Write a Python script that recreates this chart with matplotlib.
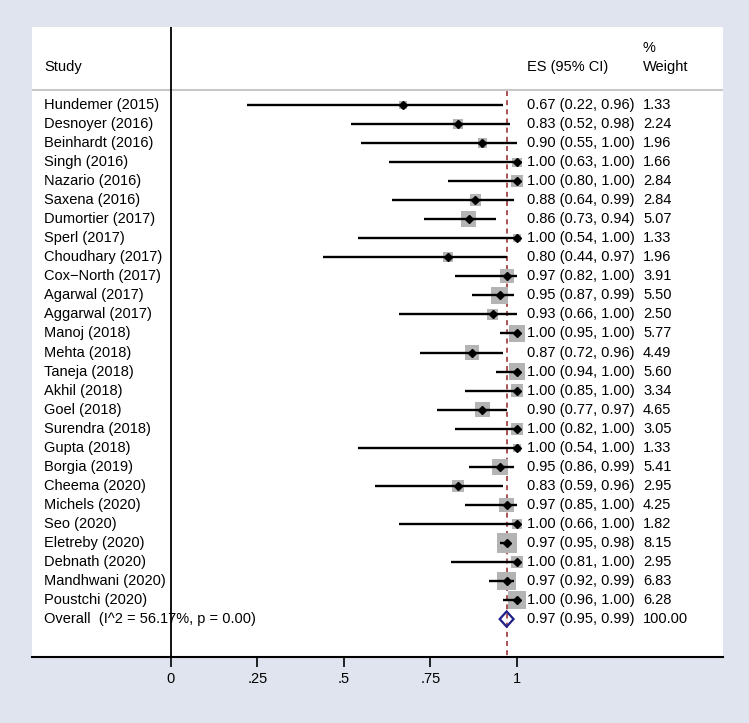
import matplotlib.pyplot as plt
from matplotlib.patches import Polygon
import numpy as np

plt.rcParams['font.family'] = ['Liberation Sans', 'DejaVu Sans']

studies = ["Hundemer (2015)", "Desnoyer (2016)", "Beinhardt (2016)", "Singh (2016)",
           "Nazario (2016)", "Saxena (2016)", "Dumortier (2017)", "Sperl (2017)",
           "Choudhary (2017)", "Cox\u2212North (2017)", "Agarwal (2017)", "Aggarwal (2017)",
           "Manoj (2018)", "Mehta (2018)", "Taneja (2018)", "Akhil (2018)", "Goel (2018)",
           "Surendra (2018)", "Gupta (2018)", "Borgia (2019)", "Cheema (2020)",
           "Michels (2020)", "Seo (2020)", "Eletreby (2020)", "Debnath (2020)",
           "Mandhwani (2020)", "Poustchi (2020)"]
es = [0.67, 0.83, 0.90, 1.00, 1.00, 0.88, 0.86, 1.00, 0.80, 0.97, 0.95, 0.93, 1.00, 0.87,
      1.00, 1.00, 0.90, 1.00, 1.00, 0.95, 0.83, 0.97, 1.00, 0.97, 1.00, 0.97, 1.00]
lo = [0.22, 0.52, 0.55, 0.63, 0.80, 0.64, 0.73, 0.54, 0.44, 0.82, 0.87, 0.66, 0.95, 0.72,
      0.94, 0.85, 0.77, 0.82, 0.54, 0.86, 0.59, 0.85, 0.66, 0.95, 0.81, 0.92, 0.96]
hi = [0.96, 0.98, 1.00, 1.00, 1.00, 0.99, 0.94, 1.00, 0.97, 1.00, 0.99, 1.00, 1.00, 0.96,
      1.00, 1.00, 0.97, 1.00, 1.00, 0.99, 0.96, 1.00, 1.00, 0.98, 1.00, 0.99, 1.00]
weight = [1.33, 2.24, 1.96, 1.66, 2.84, 2.84, 5.07, 1.33, 1.96, 3.91, 5.50, 2.50, 5.77, 4.49,
          5.60, 3.34, 4.65, 3.05, 1.33, 5.41, 2.95, 4.25, 1.82, 8.15, 2.95, 6.83, 6.28]
overall_label = "Overall  (I^2 = 56.17%, p = 0.00)"
overall = (0.97, 0.95, 0.99)
overall_weight = 100.00
xticks = [0, 0.25, 0.5, 0.75, 1]
xticklabels = ["0", ".25", ".5", ".75", "1"]

W, H = 749, 723
fig = plt.figure(figsize=(W / 100, H / 100), dpi=100)
fig.patch.set_facecolor('#dfe4ef')

# panel in pixels: left 32, right 723, top 27, bottom 657
ax = fig.add_axes([32 / W, 1 - 657 / H, (723 - 32) / W, (657 - 27) / H])
ax.set_facecolor('white')

px_unit = 346.0
row_px = 19.04
ax.set_xlim((32 - 171) / px_unit, (723 - 171) / px_unit)
ax.set_ylim((657 - 105) / row_px, (27 - 105) / row_px)

for s in ['top', 'left', 'right']:
    ax.spines[s].set_visible(False)
ax.spines['bottom'].set_linewidth(1.5)

fs = 10.5
x_study = (44 - 171) / px_unit
x_es = (527 - 171) / px_unit
x_w = (643 - 171) / px_unit

rows = np.arange(len(studies))

# header
ax.text(x_study, -2.0, "Study", fontsize=fs, va='center')
ax.text(x_es, -2.0, "ES (95% CI)", fontsize=fs, va='center')
ax.text(x_w, -3.0, "%", fontsize=fs, va='center')
ax.text(x_w, -2.0, "Weight", fontsize=fs, va='center')
ax.axhline(-0.79, color='#c8c8c8', lw=1.5)

# null line and overall dashed line
ax.axvline(0, color='black', lw=1.3, zorder=5)
ax.plot([overall[0], overall[0]], [-0.72, (657 - 105) / row_px], color='#9b3535',
        lw=1.2, ls=(0, (3, 2.5)), zorder=1)

# boxes, CIs, points
sizes = (7.0 * np.sqrt(weight) * 0.72) ** 2
ax.scatter(es, rows, s=sizes, marker='s', color='#b4b4b4', lw=0, zorder=2)
ax.hlines(rows, lo, hi, color='black', lw=1.7, zorder=3)
ax.plot(es, rows, 'D', color='black', ms=4.5, zorder=4)

for i, name in enumerate(studies):
    ax.text(x_study, i, name, fontsize=fs, va='center')
    ax.text(x_es, i, f"{es[i]:.2f} ({lo[i]:.2f}, {hi[i]:.2f})", fontsize=fs, va='center')
    ax.text(x_w, i, f"{weight[i]:.2f}", fontsize=fs, va='center')

# overall diamond
r = len(studies)
ax.add_patch(Polygon([(overall[1], r), (overall[0], r - 0.4), (overall[2], r),
                      (overall[0], r + 0.4)], closed=True, fill=False,
                     edgecolor='#1f1f8a', lw=1.6, zorder=4))
ax.text(x_study, r, overall_label, fontsize=fs, va='center')
ax.text(x_es, r, f"{overall[0]:.2f} ({overall[1]:.2f}, {overall[2]:.2f})", fontsize=fs, va='center')
ax.text(x_w, r, f"{overall_weight:.2f}", fontsize=fs, va='center')

ax.set_yticks([])
ax.set_xticks(xticks)
ax.set_xticklabels(xticklabels, fontsize=fs)
ax.tick_params(axis='x', direction='out', length=7, width=1.2, pad=4)

plt.savefig("out.png", dpi=100, facecolor=fig.get_facecolor())
